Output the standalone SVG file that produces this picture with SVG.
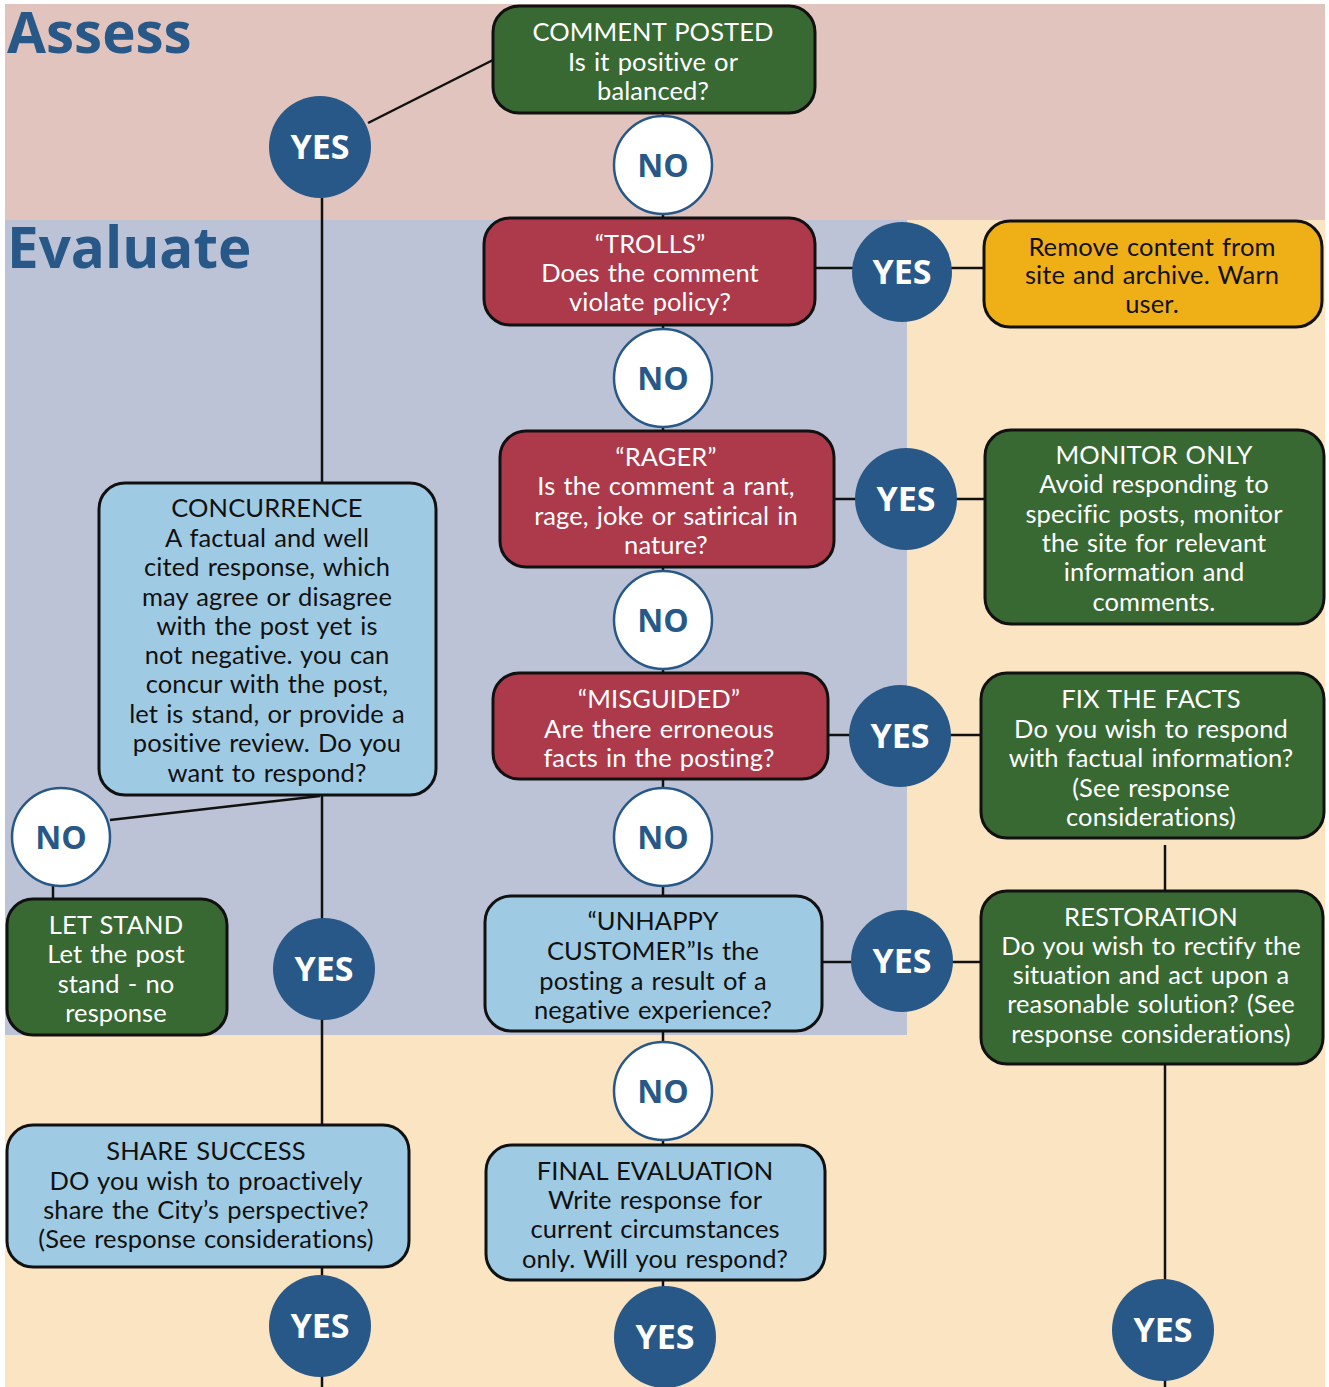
<svg xmlns="http://www.w3.org/2000/svg" width="1329" height="1387" viewBox="0 0 1329 1387">
<style>
.box{stroke:#111;stroke-width:3}
.g{fill:#386933}.r{fill:#AC3A4A}.lb{fill:#9FCAE3}.y{fill:#EFAF17}
.t{font-family:Lato,"Open Sans","Liberation Sans",sans-serif;font-size:25.5px;letter-spacing:0.1px;word-spacing:1.5px;text-anchor:middle}
.w{fill:#fff}.k{fill:#111}
.yes{fill:#285887}
.no{fill:#fff;stroke:#285887;stroke-width:2.5}
.ct{font-family:"Open Sans","Liberation Sans",sans-serif;font-weight:bold;font-size:34px;text-anchor:middle}
.nt{font-family:"Open Sans","Liberation Sans",sans-serif;font-weight:bold;font-size:32px;text-anchor:middle;fill:#285887}
.ttl{font-family:"Open Sans","Liberation Sans",sans-serif;font-weight:bold;font-size:56.5px;fill:#285887}
.ln{stroke:#111;stroke-width:2.5;fill:none}
</style>
<rect width="1329" height="1387" fill="#fff"/>
<rect x="5" y="4" width="1320" height="216" fill="#E2C4BF"/>
<rect x="5" y="220" width="1320" height="1167" fill="#FBE4C2"/>
<rect x="5" y="220" width="902" height="815" fill="#BCC3D6"/>
<text class="ttl" x="7" y="53">Assess</text>
<text class="ttl" x="7" y="268">Evaluate</text>

<g id="connectors">
<line class="ln" x1="368" y1="123" x2="493" y2="60"/>
<line class="ln" x1="322" y1="198" x2="322" y2="483"/>
<line class="ln" x1="663" y1="113" x2="663" y2="218"/>
<line class="ln" x1="663" y1="325" x2="663" y2="431"/>
<line class="ln" x1="663" y1="567" x2="663" y2="673"/>
<line class="ln" x1="663" y1="779" x2="663" y2="896"/>
<line class="ln" x1="663" y1="1031" x2="663" y2="1145"/>
<line class="ln" x1="663" y1="1280" x2="663" y2="1290"/>
<line class="ln" x1="815" y1="268" x2="985" y2="268"/>
<line class="ln" x1="834" y1="499" x2="985" y2="499"/>
<line class="ln" x1="828" y1="735" x2="981" y2="735"/>
<line class="ln" x1="822" y1="962" x2="981" y2="962"/>
<line class="ln" x1="1165" y1="845" x2="1165" y2="891"/>
<line class="ln" x1="1165" y1="1064" x2="1165" y2="1387"/>
<line class="ln" x1="320" y1="796" x2="110" y2="820"/>
<line class="ln" x1="53" y1="880" x2="53" y2="899"/>
<line class="ln" x1="322" y1="796" x2="322" y2="1125"/>
<line class="ln" x1="322" y1="1267" x2="322" y2="1387"/>
</g>

<g id="n-comment">
<rect class="box g" x="493" y="6" width="322" height="107" rx="26"/>
<text class="t w" x="653" y="41">COMMENT POSTED</text>
<text class="t w" x="653" y="71">Is it positive or</text>
<text class="t w" x="653" y="100">balanced?</text>
</g>
<g id="yes-assess"><circle class="yes" cx="320" cy="147" r="51"/><text class="ct w" x="320" y="159">YES</text></g>
<g id="no-1"><circle class="no" cx="663" cy="165" r="49"/><text class="nt" x="663" y="177">NO</text></g>

<g id="n-trolls">
<rect class="box r" x="484" y="218" width="331" height="107" rx="26"/>
<text class="t w" x="650" y="253">“TROLLS”</text>
<text class="t w" x="650" y="282">Does the comment</text>
<text class="t w" x="650" y="311">violate policy?</text>
</g>
<g id="yes-trolls"><circle class="yes" cx="902" cy="272" r="50"/><text class="ct w" x="902" y="284">YES</text></g>
<g id="n-remove">
<rect class="box y" x="984" y="221" width="338" height="106" rx="26"/>
<text class="t k" x="1152" y="256">Remove content from</text>
<text class="t k" x="1152" y="284">site and archive. Warn</text>
<text class="t k" x="1152" y="313">user.</text>
</g>
<g id="no-2"><circle class="no" cx="663" cy="378" r="49"/><text class="nt" x="663" y="390">NO</text></g>

<g id="n-rager">
<rect class="box r" x="500" y="431" width="334" height="136" rx="26"/>
<text class="t w" x="666" y="466">“RAGER”</text>
<text class="t w" x="666" y="495">Is the comment a rant,</text>
<text class="t w" x="666" y="525">rage, joke or satirical in</text>
<text class="t w" x="666" y="554">nature?</text>
</g>
<g id="yes-rager"><circle class="yes" cx="906" cy="499" r="51"/><text class="ct w" x="906" y="511">YES</text></g>
<g id="n-monitor">
<rect class="box g" x="985" y="430" width="339" height="194" rx="26"/>
<text class="t w" x="1154" y="464">MONITOR ONLY</text>
<text class="t w" x="1154" y="493">Avoid responding to</text>
<text class="t w" x="1154" y="523">specific posts, monitor</text>
<text class="t w" x="1154" y="552">the site for relevant</text>
<text class="t w" x="1154" y="581">information and</text>
<text class="t w" x="1154" y="611">comments.</text>
</g>
<g id="no-3"><circle class="no" cx="663" cy="620" r="49"/><text class="nt" x="663" y="632">NO</text></g>

<g id="n-misguided">
<rect class="box r" x="493" y="673" width="335" height="106" rx="26"/>
<text class="t w" x="659" y="708">“MISGUIDED”</text>
<text class="t w" x="659" y="738">Are there erroneous</text>
<text class="t w" x="659" y="767">facts in the posting?</text>
</g>
<g id="yes-misguided"><circle class="yes" cx="900" cy="736" r="51"/><text class="ct w" x="900" y="748">YES</text></g>
<g id="n-fix">
<rect class="box g" x="981" y="673" width="343" height="165" rx="26"/>
<text class="t w" x="1151" y="708">FIX THE FACTS</text>
<text class="t w" x="1151" y="738">Do you wish to respond</text>
<text class="t w" x="1151" y="767">with factual information?</text>
<text class="t w" x="1151" y="797">(See response</text>
<text class="t w" x="1151" y="826">considerations)</text>
</g>
<g id="no-4"><circle class="no" cx="663" cy="837" r="49"/><text class="nt" x="663" y="849">NO</text></g>

<g id="n-unhappy">
<rect class="box lb" x="485" y="896" width="337" height="135" rx="26"/>
<text class="t k" x="653" y="930">“UNHAPPY</text>
<text class="t k" x="653" y="960">CUSTOMER”Is the</text>
<text class="t k" x="653" y="990">posting a result of a</text>
<text class="t k" x="653" y="1019">negative experience?</text>
</g>
<g id="yes-unhappy"><circle class="yes" cx="902" cy="961" r="51"/><text class="ct w" x="902" y="973">YES</text></g>
<g id="n-restoration">
<rect class="box g" x="981" y="891" width="342" height="173" rx="26"/>
<text class="t w" x="1151" y="926">RESTORATION</text>
<text class="t w" x="1151" y="955">Do you wish to rectify the</text>
<text class="t w" x="1151" y="984">situation and act upon a</text>
<text class="t w" x="1151" y="1013">reasonable solution? (See</text>
<text class="t w" x="1151" y="1043">response considerations)</text>
</g>
<g id="yes-restoration"><circle class="yes" cx="1163" cy="1330" r="51"/><text class="ct w" x="1163" y="1342">YES</text></g>
<g id="no-5"><circle class="no" cx="663" cy="1091" r="49"/><text class="nt" x="663" y="1103">NO</text></g>

<g id="n-final">
<rect class="box lb" x="486" y="1145" width="339" height="135" rx="26"/>
<text class="t k" x="655" y="1180">FINAL EVALUATION</text>
<text class="t k" x="655" y="1209">Write response for</text>
<text class="t k" x="655" y="1238">current circumstances</text>
<text class="t k" x="655" y="1268">only. Will you respond?</text>
</g>
<g id="yes-final"><circle class="yes" cx="665" cy="1337" r="51"/><text class="ct w" x="665" y="1349">YES</text></g>

<g id="n-concurrence">
<rect class="box lb" x="99" y="483" width="337" height="312" rx="26"/>
<text class="t k" x="267" y="517">CONCURRENCE</text>
<text class="t k" x="267" y="547">A factual and well</text>
<text class="t k" x="267" y="576">cited response, which</text>
<text class="t k" x="267" y="606">may agree or disagree</text>
<text class="t k" x="267" y="635">with the post yet is</text>
<text class="t k" x="267" y="664">not negative. you can</text>
<text class="t k" x="267" y="693">concur with the post,</text>
<text class="t k" x="267" y="723">let is stand, or provide a</text>
<text class="t k" x="267" y="752">positive review. Do you</text>
<text class="t k" x="267" y="782">want to respond?</text>
</g>
<g id="no-concurrence"><circle class="no" cx="61" cy="837" r="49"/><text class="nt" x="61" y="849">NO</text></g>
<g id="n-letstand">
<rect class="box g" x="7" y="899" width="220" height="136" rx="26"/>
<text class="t w" x="116" y="934">LET STAND</text>
<text class="t w" x="116" y="963">Let the post</text>
<text class="t w" x="116" y="993">stand - no</text>
<text class="t w" x="116" y="1022">response</text>
</g>
<g id="yes-concurrence"><circle class="yes" cx="324" cy="969" r="51"/><text class="ct w" x="324" y="981">YES</text></g>
<g id="n-share">
<rect class="box lb" x="7" y="1125" width="402" height="142" rx="26"/>
<text class="t k" x="206" y="1160">SHARE SUCCESS</text>
<text class="t k" x="206" y="1190">DO you wish to proactively</text>
<text class="t k" x="206" y="1219">share the City’s perspective?</text>
<text class="t k" x="206" y="1248">(See response considerations)</text>
</g>
<g id="yes-share"><circle class="yes" cx="320" cy="1326" r="51"/><text class="ct w" x="320" y="1338">YES</text></g>
</svg>
